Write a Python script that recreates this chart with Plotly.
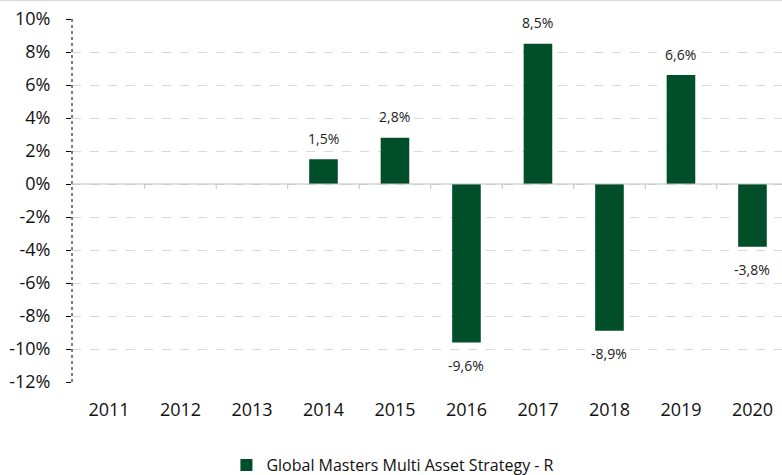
import plotly.graph_objects as go

years = ["2011", "2012", "2013", "2014", "2015", "2016", "2017", "2018", "2019", "2020"]
returns = [None, None, None, 1.5, 2.8, -9.6, 8.5, -8.9, 6.6, -3.8]
series_name = "Global Masters Multi Asset Strategy - R"
y_ticks = [10, 8, 6, 4, 2, 0, -2, -4, -6, -8, -10, -12]

labels = ["" if v is None else f"{v:.1f}%".replace(".", ",") for v in returns]
color = "#004F2A"
font = "Open Sans, Liberation Sans, sans-serif"

fig = go.Figure()
fig.add_trace(go.Bar(
    x=years, y=returns, name=series_name, width=0.4,
    marker=dict(color=color, line=dict(width=0)),
    showlegend=True,
))

annotations = []
for i, (v, lab) in enumerate(zip(returns, labels)):
    if v is None:
        continue
    annotations.append(dict(x=i, y=v, xref="x", yref="y", text=lab, showarrow=False,
                            yshift=21 if v >= 0 else -23, yanchor="middle",
                            font=dict(size=14, color="#222222", family=font)))

shapes = []
# y axis dotted line
shapes.append(dict(type="line", xref="paper", yref="paper", x0=0, x1=0, y0=0, y1=1,
                   line=dict(color="#000000", width=1, dash="dot")))
# zero line
shapes.append(dict(type="line", xref="paper", yref="y", x0=0, x1=1, y0=0, y1=0,
                   line=dict(color="#bfbfbf", width=1)))
# category tick marks on zero line
for i in range(len(years) - 1):
    shapes.append(dict(type="line", xref="x", yref="y", x0=i + 0.5, x1=i + 0.5,
                       y0=0, y1=-0.3, line=dict(color="#bfbfbf", width=1)))
# top border
shapes.append(dict(type="line", xref="paper", yref="paper", x0=-0.2, x1=1.2, y0=1.052, y1=1.052,
                   line=dict(color="#d9d9d9", width=2)))

fig.update_layout(
    width=782, height=475,
    margin=dict(l=72, r=0, t=19, b=93, autoexpand=False),
    plot_bgcolor="white", paper_bgcolor="white",
    font=dict(family=font, color="#111111"),
    shapes=shapes,
    annotations=annotations,
    legend=dict(orientation="h", x=0.452, xanchor="center", y=-0.229, yanchor="middle",
                font=dict(size=16, color="#111111", family=font),
                itemwidth=30, traceorder="normal"),
    xaxis=dict(type="category", showgrid=False, showline=False, ticks="",
               ticklabelstandoff=15,
               tickfont=dict(size=18, family=font, color="#111111"), range=[-0.517, 9.413]),
    yaxis=dict(range=[-12, 10], tickvals=y_ticks,
               ticktext=[f"{v}%" for v in y_ticks],
               showgrid=True, gridcolor="#d9d9d9", griddash="dash", gridwidth=1,
               zeroline=False, showline=False,
               ticks="outside", ticklen=5, tickcolor="#000000",
               ticklabelstandoff=12,
               tickfont=dict(size=18, family=font, color="#111111")),
)
fig.write_html("out.html")
